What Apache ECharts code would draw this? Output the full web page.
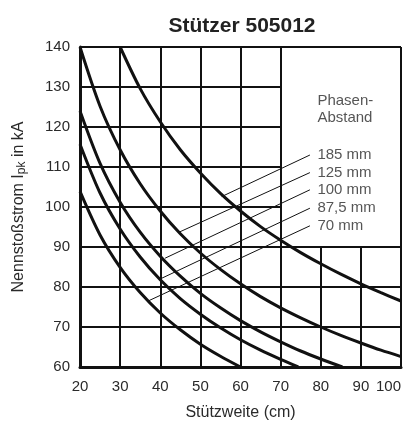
<!DOCTYPE html>
<html lang="de" style="height: 100%">

<head>
  <meta charset="utf-8">
</head>

<body style="height: 100%; margin: 0; background: #fff">
  <div id="container" style="height: 100%"></div>

  <script type="text/javascript" src="https://cdn.jsdelivr.net/npm/echarts@6/dist/echarts.min.js"></script>

  <script type="text/javascript">
    // Achsen
    const xTicks = [20, 30, 40, 50, 60, 70, 80, 90, 100];
    const yTicks = [60, 70, 80, 90, 100, 110, 120, 130, 140];

    // Kurven: [Stützweite cm, Nennstoßstrom kA]
    const curve185 = [[30, 140], [35, 129.6], [40, 121.3], [45, 114.3], [50, 108.5], [55, 103.4], [60, 99.0],
      [65, 95.1], [70, 91.7], [75, 88.6], [80, 85.8], [85, 83.2], [90, 80.8], [95, 78.6], [100, 76.5]];
    const curve125 = [[20, 140], [25, 125.2], [30, 114.3], [35, 105.8], [40, 99.0], [45, 93.3], [50, 88.5],
      [55, 84.4], [60, 80.8], [65, 77.6], [70, 74.8], [75, 72.3], [80, 70.0], [85, 67.9], [90, 66.0],
      [95, 64.2], [100, 62.6]];
    const curve100 = [[20, 124.0], [25, 110.9], [30, 101.2], [35, 93.7], [40, 87.7], [45, 82.7], [50, 78.4],
      [55, 74.8], [60, 71.6], [65, 68.8], [70, 66.3], [75, 64.0], [80, 62.0], [85.4, 60]];
    const curve875 = [[20, 115.7], [25, 103.5], [30, 94.5], [35, 87.5], [40, 81.8], [45, 77.1], [50, 73.2],
      [55, 69.8], [60, 66.8], [65, 64.2], [70, 61.9], [74.4, 60]];
    const curve70 = [[20, 103.9], [25, 93.0], [30, 84.9], [35, 78.6], [40, 73.5], [45, 69.3], [50, 65.7],
      [55, 62.7], [60, 60]];

    // Beschriftung mit Hinweislinien (Start bei Text, Ende auf Kurve)
    const labelNames = ['185 mm', '125 mm', '100 mm', '87,5 mm', '70 mm'];
    const leaderFrom = [[77.3, 113.0], [77.3, 108.6], [77.3, 104.3], [77.3, 99.7], [77.3, 95.3]];
    const leaderTo = [[55.3, 102.6], [44.9, 93.8], [41.2, 87.2], [40.4, 82.2], [37.2, 76.6]];
    const headerPos = [77.3, 124.3];

    // Gitter ausgespart im Legendenfeld rechts oben
    const boxX = 70;
    const boxY = 90;

    const font = 'Liberation Sans, Arial, sans-serif';
    const ink = '#111';
    const textColor = '#2a2a2a';

    var dom = document.getElementById('container');
    var myChart = echarts.init(dom, null, { renderer: 'canvas' });

    const xMin = xTicks[0], xMax = xTicks[xTicks.length - 1];
    const yMin = yTicks[0], yMax = yTicks[yTicks.length - 1];

    // Gitterlinien als markLine
    const gridLines = [];
    yTicks.slice(1).forEach(function (v) {
      const end = (v > boxY && v < yMax) ? boxX : xMax;
      gridLines.push([{ coord: [xMin, v] }, { coord: [end, v] }]);
    });
    xTicks.slice(1).forEach(function (v) {
      const top = (v > boxX && v < xMax) ? boxY : yMax;
      gridLines.push([{ coord: [v, yMin] }, { coord: [v, top] }]);
    });

    const curves = [curve185, curve125, curve100, curve875, curve70];

    const series = [];
    series.push({
      type: 'line',
      data: [],
      silent: true,
      markLine: {
        silent: true,
        symbol: 'none',
        label: { show: false },
        lineStyle: { color: ink, width: 2, type: 'solid' },
        data: gridLines
      }
    });
    curves.forEach(function (c) {
      series.push({
        type: 'line',
        data: c,
        smooth: 0.3,
        showSymbol: false,
        clip: true,
        lineStyle: { color: ink, width: 3 },
        z: 5
      });
    });
    labelNames.forEach(function (name, i) {
      series.push({
        type: 'line',
        data: [leaderFrom[i], leaderTo[i]],
        showSymbol: false,
        lineStyle: { color: ink, width: 1 },
        z: 4
      });
    });
    series.push({
      type: 'scatter',
      symbolSize: 1,
      itemStyle: { color: 'rgba(0,0,0,0)' },
      data: leaderFrom.map(function (p, i) {
        return { value: p, name: labelNames[i] };
      }).concat([{ value: headerPos, name: 'Phasen-\nAbstand' }]),
      label: {
        show: true,
        position: 'right',
        distance: 7,
        formatter: '{b}',
        lineHeight: 17,
        fontFamily: font,
        fontSize: 15,
        color: textColor
      },
      z: 6
    });

    var option = {
      animation: false,
      graphic: [{
        type: 'text',
        x: 242,
        y: 26,
        style: {
          text: 'Stützer 505012',
          font: 'bold 21px ' + font,
          fill: '#222',
          textAlign: 'center',
          textVerticalAlign: 'middle'
        }
      }],
      grid: {
        left: 80,
        right: 5,
        top: 47,
        bottom: 56,
        outerBoundsMode: 'none',
        containLabel: false
      },
      xAxis: {
        type: 'value',
        min: xMin,
        max: xMax,
        interval: 10,
        name: 'Stützweite (cm)',
        nameLocation: 'middle',
        nameGap: 38,
        nameTextStyle: { fontFamily: font, fontSize: 16, color: textColor },
        axisLine: { show: true, lineStyle: { color: ink, width: 3 } },
        axisTick: { show: false },
        splitLine: { show: false },
        axisLabel: { fontFamily: font, fontSize: 15, color: textColor, margin: 12, alignMaxLabel: 'right' }
      },
      yAxis: {
        type: 'value',
        min: yMin,
        max: yMax,
        interval: 10,
        name: 'Nennstoßstrom I{sub|pk} in kA',
        nameLocation: 'middle',
        nameRotate: 90,
        nameGap: 52,
        nameTextStyle: {
          fontFamily: font,
          fontSize: 16,
          color: textColor,
          rich: {
            sub: { fontFamily: font, fontSize: 12, color: textColor, verticalAlign: 'bottom', padding: [6, 0, 0, 0] }
          }
        },
        axisLine: { show: true, lineStyle: { color: ink, width: 3 } },
        axisTick: { show: false },
        splitLine: { show: false },
        axisLabel: { fontFamily: font, fontSize: 15, color: textColor, margin: 10 }
      },
      series: series
    };

    myChart.setOption(option);
    window.addEventListener('resize', myChart.resize);
  </script>
</body>

</html>
